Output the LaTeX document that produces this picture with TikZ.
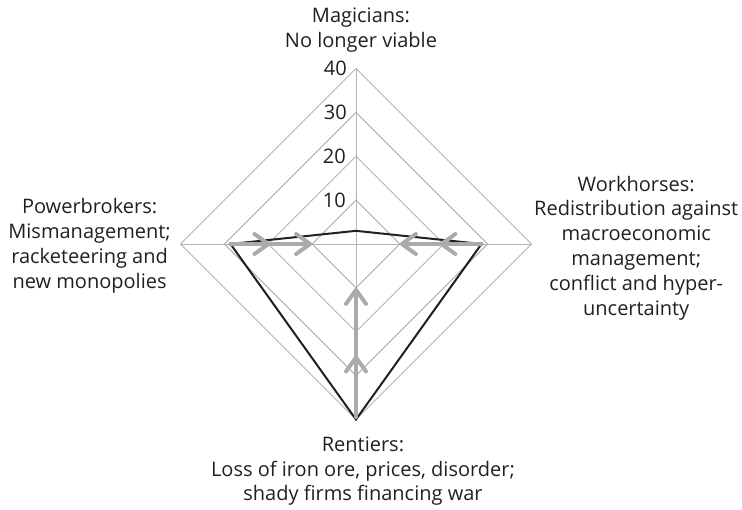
\documentclass[tikz,border=0pt]{standalone}
\usepackage{fontspec}
\setmainfont{Open Sans}
\usetikzlibrary{arrows.meta}
\definecolor{gridgray}{HTML}{B3B3B3}
\definecolor{arrowgray}{HTML}{ABABAB}
\definecolor{ink}{HTML}{231F20}
\begin{document}
\begin{tikzpicture}[x=1pt,y=-1pt,
  grid/.style={draw=gridgray, line width=0.9pt},
  dataline/.style={draw=ink, line width=2pt, line join=miter},
  gline/.style={draw=arrowgray, line width=4pt, line cap=round,
    -{Straight Barb[length=14pt,width=20pt,line cap=round,line join=round]}},
  axislabel/.style={font=\fontsize{20}{24.8}\selectfont, align=center, inner sep=0pt, text=ink},
  num/.style={font=\fontsize{20}{24}\selectfont, inner sep=0pt, text=ink, anchor=east}]
\useasboundingbox (0,0) rectangle (742,510);
\def\u{4.3875}
\coordinate (C) at (356,244);
% rings
\foreach \k in {1,2,3,4}{
  \coordinate (T\k) at (356,{244-\k*10*\u});
  \coordinate (R\k) at ({356+\k*10*\u},244);
  \coordinate (B\k) at (356,{244+\k*10*\u});
  \coordinate (L\k) at ({356-\k*10*\u},244);
  \draw[grid] (T\k) -- (R\k) -- (B\k) -- (L\k) -- cycle;
}
\draw[grid] (T4) -- (B4);
\draw[grid] (L4) -- (R4);
% numbers
\node[num] (n10) at ([xshift=-10pt]T1) {10};
\node[num] (n20) at ([xshift=-10pt]T2) {20};
\node[num] (n30) at ([xshift=-9pt]T3) {30};
\node[num] (n40) at ([xshift=-9pt]T4) {40};
% data
\coordinate (dT) at (356,{244-3*\u});
\coordinate (dR) at ({356+28.6*\u},244);
\coordinate (dB) at (356,{244+40*\u});
\coordinate (dL) at ({356-28.6*\u},244);
\draw[dataline] (dT) -- (dR) -- (dB) -- (dL) -- cycle;
% arrows
\coordinate (aL1) at ({356-10*\u},244);
\coordinate (aL2) at ({356-19.5*\u},244);
\coordinate (aR1) at ({356+10*\u},244);
\coordinate (aR2) at ({356+19*\u},244);
\coordinate (aB1) at (356,{244+10*\u});
\coordinate (aB2) at (356,{244+25.4*\u});
\coordinate (aBs) at (356,{244+39.4*\u});
\draw[gline] (dL) -- (aL1);
\draw[gline] (dL) -- (aL2);
\draw[gline] (dR) -- (aR1);
\draw[gline] (dR) -- (aR2);
\draw[gline] (aBs) -- (aB1);
\draw[gline] (aBs) -- (aB2);
% labels
\node[axislabel, anchor=north] (lt) at (361,8) {Magicians:\\No longer viable};
\node[axislabel, anchor=west] (lr) at (534,248) {Workhorses:\\Redistribution against\\macroeconomic\\management;\\conflict and hyper-\\uncertainty};
\node[axislabel, anchor=north] (lb) at (363,436.5) {Rentiers:\\Loss of iron ore, prices, disorder;\\shady firms financing war};
\node[axislabel, anchor=east] (ll) at (171,246) {Powerbrokers:\\Mismanagement;\\racketeering and\\new monopolies};
\end{tikzpicture}
\end{document}
